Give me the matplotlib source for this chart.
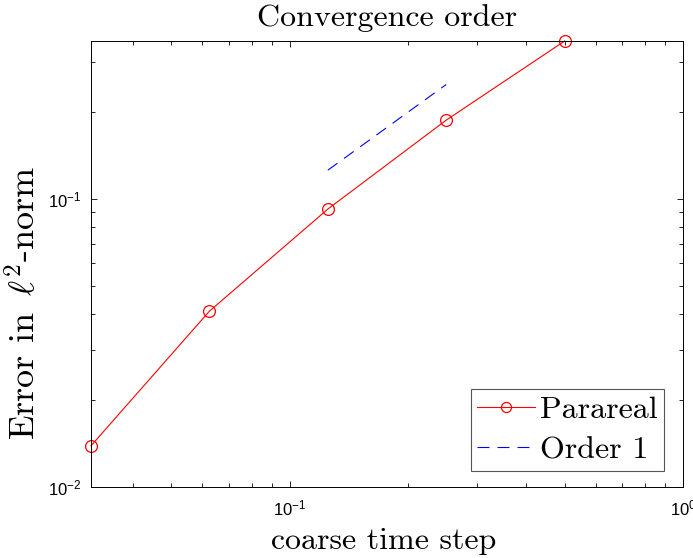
import matplotlib.pyplot as plt
import matplotlib.ticker as mticker

plt.rcParams['mathtext.fontset'] = 'cm'
plt.rcParams['mathtext.rm'] = 'Liberation Sans'
plt.rcParams['mathtext.it'] = 'Liberation Sans:italic'
plt.rcParams['mathtext.bf'] = 'Liberation Sans:bold'

# data
step = [1/32, 1/16, 1/8, 1/4, 1/2]
err_parareal = [0.0139, 0.0408, 0.0923, 0.188, 0.354]
order_x = [1/8, 1/4]
order_y = [0.126, 0.25]

xtick_vals = [1e-1, 1e0]
xtick_labels = [r'$10^{-1}$', r'$10^{0}$']
ytick_vals = [1e-2, 1e-1]
ytick_labels = [r'$10^{-2}$', r'$10^{-1}$']

fig = plt.figure(figsize=(6.93, 5.58), dpi=100)
ax = fig.add_axes([0.1313, 0.1272, 0.8543, 0.7993])

ax.loglog(step, err_parareal, '-o', color='red', lw=0.8, ms=8.5,
          mfc='none', mew=0.9, label='Parareal', clip_on=False)
ax.loglog(order_x, order_y, '--', color='blue', lw=0.8, dashes=(10.75, 7.25),
          label='Order 1')

ax.set_xlim(1/32, 1)
ax.set_ylim(0.01, 0.354)

ax.set_xticks(xtick_vals)
ax.set_xticklabels(xtick_labels, math_fontfamily='custom')
ax.set_yticks(ytick_vals)
ax.set_yticklabels(ytick_labels, math_fontfamily='custom')
ax.xaxis.set_minor_locator(mticker.LogLocator(base=10, subs=range(2, 10)))
ax.yaxis.set_minor_locator(mticker.LogLocator(base=10, subs=range(2, 10)))
ax.xaxis.set_minor_formatter(mticker.NullFormatter())
ax.yaxis.set_minor_formatter(mticker.NullFormatter())
ax.tick_params(which='both', direction='in', top=True, right=True, width=0.6)
ax.tick_params(which='major', length=4.3, labelsize=12)
ax.tick_params(axis='x', which='major', pad=9)
ax.tick_params(axis='y', which='major', pad=7)
ax.tick_params(which='minor', length=2.8)
for s in ax.spines.values():
    s.set_linewidth(0.7)

ax.set_title('Convergence order', fontfamily='cmr10', fontsize=23, pad=11)
ax.set_xlabel('coarse time step', fontfamily='cmr10', fontsize=23)
ax.set_ylabel(r'Error in $\,\ell^2$-norm', fontfamily='cmr10', fontsize=26)
ax.xaxis.set_label_coords(0.494, -0.09)
ax.yaxis.set_label_coords(-0.083, 0.413)

leg = ax.legend(loc='lower right', bbox_to_anchor=(0.968, 0.036),
                prop={'family': 'cmr10', 'size': 23},
                fancybox=False, edgecolor='#555555', framealpha=1,
                handlelength=1.8, handletextpad=0.16, borderpad=0.2,
                labelspacing=0.38, borderaxespad=0, markerscale=0.85)
leg.get_frame().set_linewidth(0.8)

fig.savefig('out.png', dpi=100)
